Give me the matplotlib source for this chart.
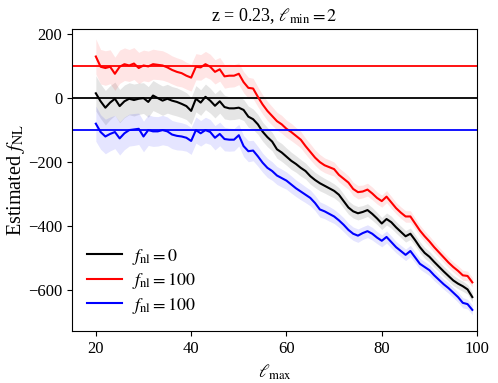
import numpy as np
import matplotlib
matplotlib.use("Agg")
import matplotlib.pyplot as plt

plt.rcParams['font.family'] = ['Liberation Serif', 'DejaVu Serif']
plt.rcParams['mathtext.fontset'] = 'stix'

# multipole range
ell_max = list(range(20, 100))

# estimated f_NL for the three simulations
fnl_0 = [15, -10, -30, -14, -2, -25, -10, -2, -6, -2,
         0, -12, 8, 0, -8, -2, -8, -12, -18, -25,
         -40, -2, -14, 4, -8, -24, -10, -28, -32, -32,
         -30, -37, -58, -66, -82, -105, -122, -136, -160, -170,
         -183, -196, -206, -218, -228, -244, -256, -266, -274, -282,
         -290, -302, -322, -342, -354, -360, -356, -350, -362, -376,
         -392, -378, -388, -404, -418, -432, -424, -444, -466, -484,
         -496, -512, -527, -542, -556, -570, -580, -588, -598, -622]
fnl_p100 = [130, 98, 94, 98, 76, 98, 106, 102, 108, 94,
            102, 99, 106, 104, 102, 96, 88, 82, 78, 70,
            64, 98, 96, 106, 98, 82, 90, 68, 70, 70,
            76, 50, 32, 30, 4, -20, -40, -56, -72, -82,
            -96, -106, -118, -130, -150, -168, -186, -200, -210, -216,
            -222, -240, -252, -264, -284, -294, -292, -286, -298, -312,
            -322, -308, -326, -344, -358, -370, -370, -392, -414, -432,
            -448, -466, -482, -498, -514, -528, -540, -554, -556, -576]
fnl_m100 = [-80, -106, -120, -112, -106, -126, -110, -100, -98, -96,
            -120, -100, -104, -104, -100, -104, -114, -118, -120, -124,
            -134, -100, -110, -100, -106, -124, -112, -128, -130, -130,
            -116, -150, -166, -164, -182, -202, -218, -228, -242, -250,
            -258, -270, -282, -292, -302, -312, -328, -348, -354, -362,
            -370, -382, -396, -412, -424, -430, -422, -416, -424, -436,
            -446, -434, -450, -466, -478, -490, -478, -498, -518, -528,
            -538, -554, -568, -582, -594, -608, -622, -640, -644, -662]
# 1-sigma half width of the shaded bands
sigma = [55, 54, 54, 53, 52, 52, 51, 50, 50, 49,
         48, 48, 47, 46, 46, 45, 44, 44, 43, 42,
         42, 41, 40, 40, 39, 38, 37, 37, 36, 35,
         34, 33, 33, 32, 31, 30, 30, 29, 28, 28,
         27, 27, 26, 26, 25, 25, 24, 24, 23, 23,
         22, 22, 22, 21, 21, 21, 20, 20, 20, 19,
         19, 19, 19, 18, 18, 18, 18, 17, 17, 17,
         17, 17, 16, 16, 16, 16, 16, 16, 15, 15]

fnl_true = [0, 100, -100]
labels = [r'$f_{\rm nl} = 0$', r'$f_{\rm nl} = 100$', r'$f_{\rm nl} = 100$']
colors = ['k', 'r', 'b']

x = np.array(ell_max)
err = np.array(sigma)

fig = plt.figure(figsize=(4.98, 3.83), dpi=100)
ax = fig.add_axes([0.1446, 0.1358, 0.8134, 0.7885])

for y, c, lab, t in zip([fnl_0, fnl_p100, fnl_m100], colors, labels, fnl_true):
    y = np.array(y)
    ax.fill_between(x, y - err, y + err, color=c, alpha=0.1, lw=0)
    ax.plot(x, y, color=c, lw=1.5, label=lab)
    ax.axhline(t, color=c, lw=1.3)

ax.set_xlim(15, 100)
ax.set_ylim(-728, 216)
ax.set_xticks([20, 40, 60, 80, 100])
ax.set_yticks([-600, -400, -200, 0, 200])
ax.tick_params(labelsize=12)
ax.set_xlabel(r'$\ell_{\rm max}$', fontsize=13)
ax.set_ylabel(r'Estimated $f_{\rm NL}$', fontsize=14.5, labelpad=1)
ax.set_title(r'z = 0.23, $\ell_{\rm min} = 2$', fontsize=13)
ax.legend(loc='lower left', frameon=False, fontsize=13, handlelength=1.9,
          handletextpad=0.6, labelspacing=0.25, borderpad=0.5,
          borderaxespad=0.35)

fig.savefig('out.png', dpi=100)
